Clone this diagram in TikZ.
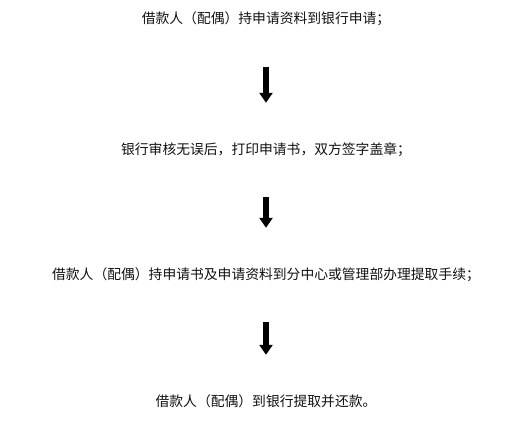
\documentclass[tikz,border=0pt]{standalone}
\usepackage{fontspec}
\newfontfamily\cjk{Noto Sans CJK SC}
\usetikzlibrary{arrows.meta, positioning}
\definecolor{colorText}{HTML}{111111}

\begin{document}
\begin{tikzpicture}[x=1pt,y=-1pt,
        step text/.style={font=\cjk\fontsize{13.8}{14}\selectfont, text=colorText, inner sep=0pt, text height=11pt, text depth=3pt},
        flow arrow/.style={line width=6pt, -{Triangle[width=13pt,length=10pt]}, shorten <=40pt, shorten >=40pt}]
        \useasboundingbox (0,0) rectangle (518,420);
        \node[step text] (apply) at (266,20) {借款人（配偶）持申请资料到银行申请；};
        \node[step text] (check) at (266,150) {银行审核无误后，打印申请书，双方签字盖章；};
        \node[step text] (transact) at (266,275) {借款人（配偶）持申请书及申请资料到分中心或管理部办理提取手续；};
        \node[step text] (repay) at (266,402) {借款人（配偶）到银行提取并还款。};
        \draw[flow arrow] (apply) -- (check);
        \draw[flow arrow] (check) -- (transact);
        \draw[flow arrow] (transact) -- (repay);
    \end{tikzpicture}
\end{document}
